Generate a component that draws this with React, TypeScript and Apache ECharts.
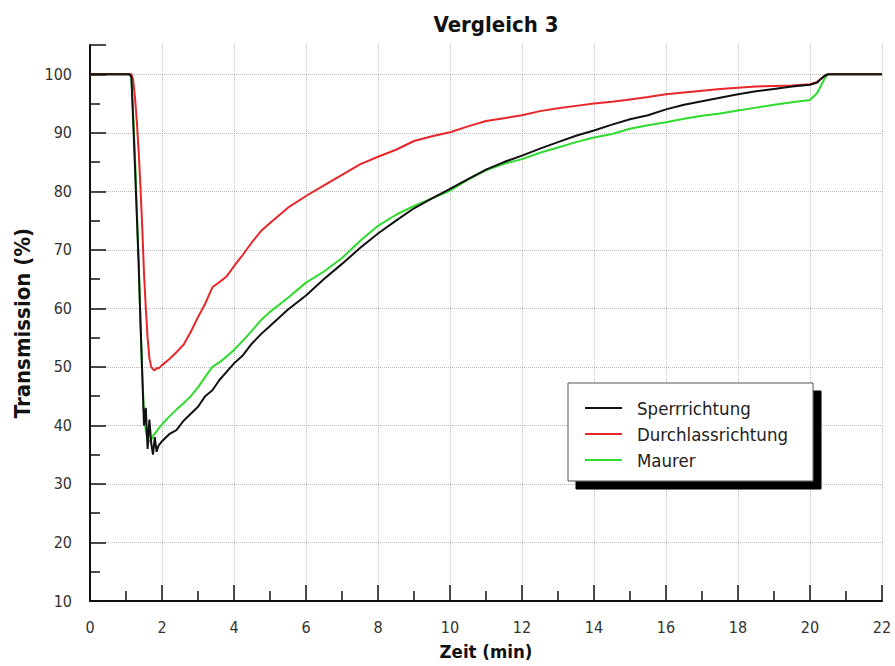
import React, { useEffect, useRef } from "react";
import * as echarts from "echarts";

const titleText = "Vergleich 3";
const xName = "Zeit (min)";
const yName = "Transmission (%)";
const seriesNames = ["Sperrrichtung", "Durchlassrichtung", "Maurer"];
const seriesColors = ["#111111", "#e8262a", "#2edc2e"];

const time = [
  0, 0.5, 1.0, 1.1, 1.15, 1.2, 1.25, 1.3, 1.35, 1.4, 1.45, 1.5, 1.55, 1.6, 1.65, 1.7, 1.75, 1.8, 1.85, 1.9,
  2.0, 2.2, 2.4, 2.6, 2.8, 3.0, 3.2, 3.4, 3.6, 3.8, 4.0, 4.25, 4.5, 4.75, 5.0, 5.5, 6.0, 6.5, 7.0, 7.5,
  8.0, 8.5, 9.0, 9.5, 10, 10.5, 11, 11.5, 12, 12.5, 13, 13.5, 14, 14.5, 15, 15.5, 16, 16.5, 17, 17.5,
  18, 18.5, 19, 19.5, 20, 20.2, 20.3, 20.4, 20.5, 20.6, 21, 21.5, 22,
];

const sperr = [
  100, 100, 100, 100, 99.5, 92, 84, 76, 68, 58, 49, 40, 43, 36, 41, 37, 35, 38, 35.5, 36.5,
  37.3, 38.5, 39.2, 40.8, 42, 43.2, 45, 46, 47.8, 49.2, 50.6, 52, 54, 55.6, 57, 59.8, 62.2, 65, 67.6, 70.3,
  72.8, 75, 77.1, 78.8, 80.4, 82.1, 83.7, 85, 86.1, 87.3, 88.4, 89.5, 90.4, 91.4, 92.3, 93, 94, 94.8, 95.4, 96,
  96.6, 97.1, 97.5, 97.9, 98.2, 98.6, 99.2, 99.7, 100, 100, 100, 100, 100,
];

const durchlass = [
  100, 100, 100, 100, 100, 99, 96, 92, 87, 81, 74, 66, 60, 55, 51.5, 50, 49.6, 49.4, 49.8, 49.7,
  50.3, 51.3, 52.5, 53.8, 56, 58.5, 60.8, 63.6, 64.5, 65.5, 67.2, 69.2, 71.3, 73.2, 74.6, 77.2, 79.2, 81, 82.8, 84.6,
  85.9, 87.1, 88.6, 89.4, 90.1, 91.1, 92, 92.5, 93, 93.7, 94.2, 94.6, 95, 95.3, 95.7, 96.1, 96.6, 96.9, 97.2, 97.5,
  97.7, 97.9, 98, 98.1, 98.3, 98.7, 99.2, 99.7, 100, 100, 100, 100, 100,
];

const maurer = [
  100, 100, 100, 100, 99.5, 93, 86, 77, 68, 58, 49, 42, 39, 37.5, 37.2, 37.5, 38.2, 38.6, 39, 39.4,
  40.2, 41.5, 42.7, 43.8, 45, 46.5, 48.3, 50, 50.8, 51.8, 52.9, 54.5, 56.2, 58, 59.4, 61.8, 64.4, 66.3, 68.6, 71.5,
  74.1, 76, 77.5, 78.8, 80.1, 82, 83.6, 84.7, 85.5, 86.6, 87.5, 88.4, 89.2, 89.8, 90.7, 91.3, 91.8, 92.4, 92.9, 93.3,
  93.8, 94.3, 94.8, 95.2, 95.6, 96.8, 98, 99.2, 100, 100, 100, 100, 100,
];

const seriesValues = [sperr, durchlass, maurer];

const FONT = "'DejaVu Sans Condensed', 'DejaVu Sans', sans-serif";

export default function App() {
  const ref = useRef<HTMLDivElement>(null);
  useEffect(() => {
    document.body.style.margin = "0";
    if (!ref.current) return;
    const chart = echarts.init(ref.current, null, { renderer: "svg" });
    const gridLine = { show: true, lineStyle: { color: "#b8b8b8", type: "dotted", width: 1 } };
    chart.setOption({
      animation: false,
      backgroundColor: "#ffffff",
      title: {
        text: titleText,
        left: 491,
        textAlign: "center",
        top: 8,
        textStyle: { fontFamily: FONT, fontSize: 22, fontWeight: "bold", color: "#111" },
      },
      grid: { left: 90, right: 13, top: 45, bottom: 63, containLabel: false },
      legend: {
        orient: "vertical",
        left: 568,
        top: 383,
        data: seriesNames,
        icon: "rect",
        itemWidth: 37,
        itemHeight: 2,
        itemGap: 6,
        padding: [15, 25, 11, 17],
        backgroundColor: "#ffffff",
        borderColor: "#555",
        borderWidth: 1,
        shadowColor: "#000",
        shadowBlur: 0,
        shadowOffsetX: 8,
        shadowOffsetY: 8,
        textStyle: { fontFamily: FONT, fontSize: 18.5, lineHeight: 20, color: "#222", padding: [0, 0, 0, 10] },
      },
      xAxis: {
        type: "value",
        min: 0,
        max: 22,
        interval: 2,
        name: xName,
        nameLocation: "middle",
        nameGap: 41,
        nameTextStyle: { fontFamily: FONT, fontSize: 18.5, fontWeight: "bold", color: "#111" },
        axisLine: { lineStyle: { color: "#111", width: 2 } },
        axisTick: { inside: true, length: 16, lineStyle: { color: "#111", width: 1.5 } },
        minorTick: { show: true, splitNumber: 2, length: 10, lineStyle: { color: "#111", width: 1.5 } },
        axisLabel: { fontFamily: FONT, fontSize: 16, color: "#333", margin: 18 },
        splitLine: gridLine,
      },
      yAxis: {
        type: "value",
        min: 10,
        max: 105,
        interval: 10,
        name: yName,
        nameLocation: "middle",
        nameGap: 56,
        nameTextStyle: { fontFamily: FONT, fontSize: 22, fontWeight: "bold", color: "#111" },
        axisLine: { show: true, lineStyle: { color: "#111", width: 2 } },
        axisTick: { show: true, inside: true, length: 16, lineStyle: { color: "#111", width: 1.5 } },
        minorTick: { show: true, splitNumber: 2, length: 10, lineStyle: { color: "#111", width: 1.5 } },
        axisLabel: {
          fontFamily: FONT,
          fontSize: 16,
          color: "#333",
          margin: 18,
          formatter: (v: number) => (v > 100 ? "" : String(v)),
        },
        splitLine: { ...gridLine, showMinLine: false, showMaxLine: false },
      },
      series: seriesNames.map((name, i) => ({
        name,
        type: "line",
        showSymbol: false,
        symbol: "none",
        color: seriesColors[i],
        lineStyle: { color: seriesColors[i], width: 2 },
        data: time.map((t, j) => [t, seriesValues[i][j]]),
        z: 3 - i,
      })),
    });
    return () => chart.dispose();
  }, []);
  return <div ref={ref} style={{ width: 895, height: 666 }} />;
}
